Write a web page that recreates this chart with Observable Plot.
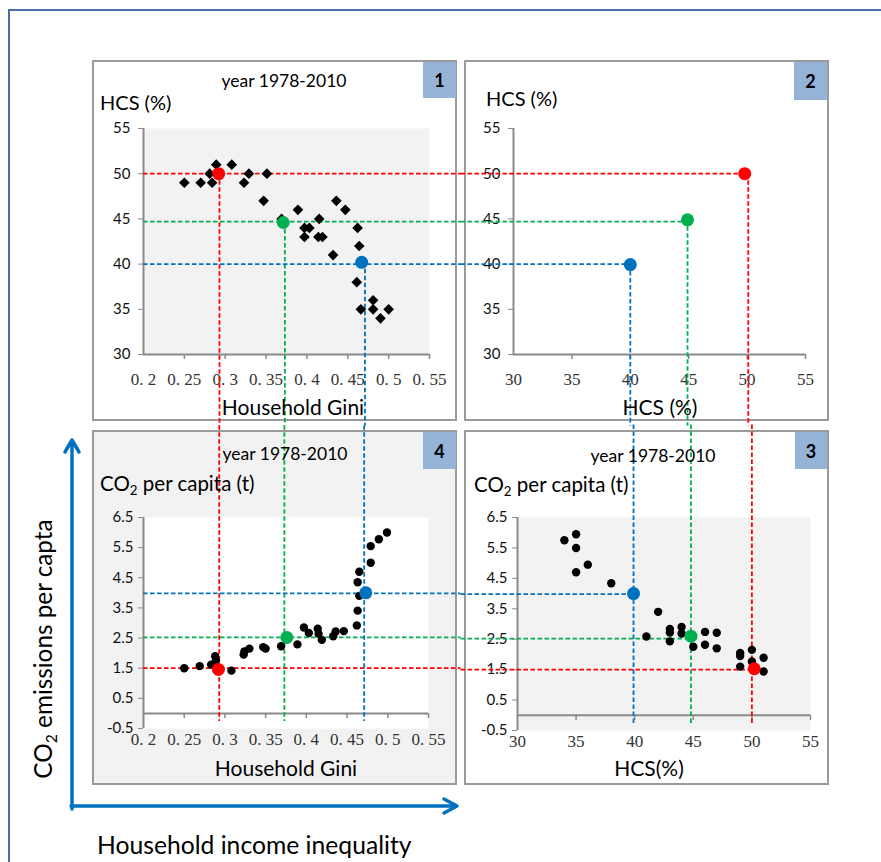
<!DOCTYPE html>
<html><head><meta charset="utf-8">
<script src="https://cdn.jsdelivr.net/npm/d3@7"></script>
<script src="https://cdn.jsdelivr.net/npm/@observablehq/plot@0.6"></script>
<style>
body{margin:0;background:#fff;}
#fig{position:relative;width:881px;height:862px;overflow:hidden;font-family:Lato,"Open Sans",sans-serif;color:#000;background:#fff;}
.panel{position:absolute;box-sizing:border-box;border:2px solid #9a9a9a;}
.lbl{position:absolute;white-space:nowrap;line-height:1;}
.c{transform:translate(-50%,-50%);}
.l{transform:translate(0,-50%);}
.badge{position:absolute;background:#95b3d7;font-weight:bold;font-size:18px;display:flex;align-items:center;justify-content:center;font-family:Lato,sans-serif;}
sub{font-size:0.65em;vertical-align:-0.3em;line-height:0;}
</style></head>
<body><div id="fig"></div>
<script>
// ---------- DATA ----------
// Panel 1: Household Gini vs HCS (%), 1978-2010
const p1Gini = [0.25,0.27,0.281,0.284,0.289,0.291,0.308,0.323,0.329,0.347,0.351,0.369,0.389,0.397,0.397,0.403,0.415,0.414,0.419,0.432,0.436,0.447,0.462,0.464,0.461,0.466,0.481,0.481,0.49,0.5];
const p1Hcs  = [49,49,50,49,51,50,51,49,50,47,50,45,46,44,43,44,45,43,43,41,47,46,44,42,38,35,36,35,34,35];
// Panel 3: HCS (%) vs CO2 per capita (t)
const p3Hcs = [34,35,35,35,36,38,42,41,43,43,43,44,44,45,46,46,47,47,49,49,49,50,50,51,51];
const p3Co2 = [5.75,5.95,5.5,4.7,4.95,4.34,3.4,2.59,2.84,2.72,2.43,2.9,2.69,2.25,2.74,2.32,2.71,2.2,2.05,1.95,1.6,2.15,1.77,1.89,1.44];
// Panel 4: Household Gini vs CO2 per capita (t)
const p4Gini = [0.25,0.269,0.283,0.288,0.289,0.308,0.323,0.324,0.33,0.347,0.35,0.369,0.389,0.397,0.403,0.414,0.415,0.419,0.433,0.436,0.446,0.462,0.463,0.463,0.465,0.465,0.479,0.479,0.489,0.499];
const p4Co2  = [1.5,1.57,1.62,1.9,1.76,1.42,1.95,2.06,2.15,2.2,2.15,2.23,2.29,2.85,2.67,2.81,2.64,2.44,2.56,2.72,2.73,2.92,3.41,4.35,4.7,3.9,5.0,5.55,5.78,6.0];
// Highlighted states (red, green, blue)
const m1Gini = [0.292,0.371,0.467], m1Hcs = [50,44.6,40.2];
const m2HcsX = [49.8,44.9,40.0],   m2HcsY = [50,44.9,39.95];
const m3Hcs  = [50.2,44.8,39.9],   m3Co2 = [1.53,2.6,4.0];
const m4Gini = [0.292,0.376,0.473], m4Co2 = [1.46,2.52,4.0];
// Guide line levels
const guideHcs  = [50,44.7,40];
const guideGini = [0.293,0.373,0.471];
const guideCo2  = [1.5,2.52,3.98];
const guideHcsX = [50.1,44.9,40.0];
// Tick values
const giniTicks = [0.2,0.25,0.3,0.35,0.4,0.45,0.5,0.55];
const hcsTicks  = [30,35,40,45,50,55];
const co2Ticks  = [-0.5,0.5,1.5,2.5,3.5,4.5,5.5,6.5];
const markColors = ["#ff0000","#00b050","#0070c0"];

// ---------- helpers ----------
const AX = "#8a8a8a";
const fig = document.getElementById("fig");
function div(cls, css, html){const d=document.createElement("div");d.className=cls;d.style.cssText=css;d.innerHTML=html||"";fig.appendChild(d);return d;}
const zip = (a,b)=>a.map((v,i)=>({x:v,y:b[i]}));
const zipc = (a,b)=>a.map((v,i)=>({x:v,y:b[i],c:markColors[i]}));
const giniFmt = d => String(d).replace(".", ". ");

// outer frame
div("", "position:absolute;left:8px;top:9px;width:1000px;height:1000px;border:2px solid #4b6fa7;box-sizing:border-box;");

const panels = [
  {left:92,top:60,w:365,h:361,bg:"#fff",plotBg:"#f2f2f2",m:[68,28,67,51],xd:[0.2,0.55],yd:[30,55],xt:giniTicks,yt:hcsTicks,xf:giniFmt,yPad:8,low:false,
   pts:zip(p1Gini,p1Hcs),sym:"diamond2",r:4.8,mk:zipc(m1Gini,m1Hcs),
   hl:guideHcs.map((y,i)=>({y,x1:0.2,x2:0.589,c:markColors[i]})),
   vl:guideGini.map((x,i)=>({x,y1:m1Hcs[i],y2:22.1,c:markColors[i]}))},
  {left:464,top:60,w:365,h:361,bg:"#fff",plotBg:"#fff",m:[68,24,67,49],xd:[30,55],yd:[30,55],xt:hcsTicks,yt:hcsTicks,xf:d=>String(d),yPad:8,low:false,
   pts:[],mk:zipc(m2HcsX,m2HcsY),
   hl:guideHcs.map((y,i)=>({y,x1:25.5,x2:m2HcsX[i],c:markColors[i]})),
   vl:guideHcsX.map((x,i)=>({x,y1:m2HcsY[i],y2:22.1,c:markColors[i]}))},
  {left:92,top:430,w:365,h:355,bg:"#f2f2f2",plotBg:"#fff",m:[87,29,57,51],xd:[0.2,0.55],yd:[-0.5,6.5],xt:giniTicks,yt:co2Ticks,xf:giniFmt,yPad:5,low:true,
   pts:zip(p4Gini,p4Co2),sym:"circle",r:4.2,mk:zipc(m4Gini,m4Co2),
   hl:guideCo2.map((y,i)=>({y,x1:0.2,x2:0.59,c:markColors[i]})),
   vl:guideGini.map((x,i)=>({x,y1:9.54,y2:-0.27,c:markColors[i]}))},
  {left:464,top:430,w:365,h:355,bg:"#fff",plotBg:"#f2f2f2",m:[87,19,55,53],xd:[30,55],yd:[-0.5,6.5],xt:hcsTicks,yt:co2Ticks,xf:d=>String(d),yPad:5,low:true,
   pts:zip(p3Hcs,p3Co2),sym:"circle",r:4.2,mk:zipc(m3Hcs,m3Co2),
   hl:guideCo2.map((y,i)=>({y,x1:25.18,x2:m3Hcs[i],c:markColors[i]})),
   vl:guideHcsX.map((x,i)=>({x:x-0.1,y1:9.54,y2:-0.27,c:markColors[i]}))}
];

// panel boxes first (beneath all plots)
panels.forEach(p=>div("panel",`left:${p.left}px;top:${p.top}px;width:${p.w}px;height:${p.h}px;background:${p.bg};`));

const svgs = panels.map(p=>{
  const [x0,x1]=p.xd,[y0,y1]=p.yd;
  const marks = [
    Plot.frame({fill:p.plotBg, stroke:"none"}),
    Plot.ruleX([x0],{y1:y0,y2:y1,stroke:AX,strokeWidth:2}),
    Plot.ruleY([p.low?0:y0],{x1:x0,x2:x1,stroke:AX,strokeWidth:2}),
    Plot.axisY({ticks:p.yt,tickSize:5,tickPadding:p.yPad,stroke:AX,fill:"#111",fontSize:15,fontFamily:"Lato, sans-serif",tickFormat:d=>String(d)}),
  ];
  if (p.low) {
    marks.push(Plot.ruleX(p.xt.slice(1),{x:d=>d,y1:0,y2:-0.17,stroke:AX,strokeWidth:1.5}));
    marks.push(Plot.axisX({ticks:p.xt,tickSize:0,tickPadding:4,fill:"#333",fontSize:17,fontFamily:"Liberation Serif, serif",tickFormat:p.xf}));
  } else {
    marks.push(Plot.ruleX(p.xt.slice(1),{x:d=>d,y1:y0,y2:y0-(y1-y0)*0.022,stroke:AX,strokeWidth:1.5}));
    marks.push(Plot.axisX({ticks:p.xt,tickSize:5,tickPadding:13,stroke:"none",fill:"#333",fontSize:17,fontFamily:"Liberation Serif, serif",tickFormat:p.xf}));
  }
  markColors.forEach(col=>{
    marks.push(Plot.ruleY(p.hl.filter(d=>d.c===col),{y:"y",x1:"x1",x2:"x2",stroke:col,strokeWidth:1.8,strokeDasharray:"4.5,2.5"}));
    marks.push(Plot.ruleX(p.vl.filter(d=>d.c===col),{x:"x",y1:"y1",y2:"y2",stroke:col,strokeWidth:1.8,strokeDasharray:"4.5,2.5"}));
  });
  if (p.pts.length) marks.push(Plot.dot(p.pts,{x:"x",y:"y",symbol:p.sym,r:p.r,fill:"#000",stroke:"none"}));
  markColors.forEach(col=>{
    marks.push(Plot.dot(p.mk.filter(d=>d.c===col),{x:"x",y:"y",r:6.5,fill:col,stroke:"none"}));
  });
  const svg = Plot.plot({
    width:p.w,height:p.h,
    marginTop:p.m[0],marginRight:p.m[1],marginBottom:p.m[2],marginLeft:p.m[3],
    x:{domain:p.xd},y:{domain:p.yd},
    style:{background:"transparent",overflow:"visible",fontFamily:"Lato, sans-serif"},
    marks
  });
  svg.style.position="absolute";svg.style.left=p.left+"px";svg.style.top=p.top+"px";
  fig.appendChild(svg);
  return svg;
});

// ---------- texts ----------
const T = (x,y,size,html,cls="c")=>div("lbl "+cls,`left:${x}px;top:${y}px;font-size:${size}px;`,html);
T(284,81,17.5,"year 1978-2010");
T(100,102,20,"HCS (%)","l");
T(293,406,21,"Household Gini");
T(486,98,20,"HCS (%)","l");
T(660,406,21,"HCS (%)");
T(285,454,17.5,"year 1978-2010");
T(100,483,20.5,"CO<sub>2</sub> per capita (t)","l");
T(286,767,21,"Household Gini");
T(653,456,17.5,"year 1978-2010");
T(474,484,20.5,"CO<sub>2</sub> per capita (t)","l");
T(649,767,21,"HCS(%)");
T(97,845,24.7,"Household income inequality","l");
div("lbl","left:43px;top:649px;font-size:24.3px;transform:translate(-50%,-50%) rotate(-90deg);","CO<sub>2</sub> emissions per capta");

// badges
[[423,62,33,36,"1"],[794,62,33,38,"2"],[423,432,33,37,"4"],[795,432,32,37,"3"]].forEach(b=>
  div("badge",`left:${b[0]}px;top:${b[1]}px;width:${b[2]}px;height:${b[3]}px;`,b[4]));

// schematic arrows (decoration)
const ns="http://www.w3.org/2000/svg";
const ov=document.createElementNS(ns,"svg");
ov.setAttribute("width",881);ov.setAttribute("height",862);
ov.style.cssText="position:absolute;left:0;top:0;pointer-events:none;";
ov.innerHTML=`<g fill="none" stroke="#0070c0" stroke-width="3.5" stroke-linecap="round" stroke-linejoin="round">
<path d="M72,809 V441"/><path d="M65,452 L72,440 L79,452"/>
<path d="M71,806 H456"/><path d="M444,799 L457,806 L444,813"/></g>`;
fig.appendChild(ov);
</script>
</body></html>
